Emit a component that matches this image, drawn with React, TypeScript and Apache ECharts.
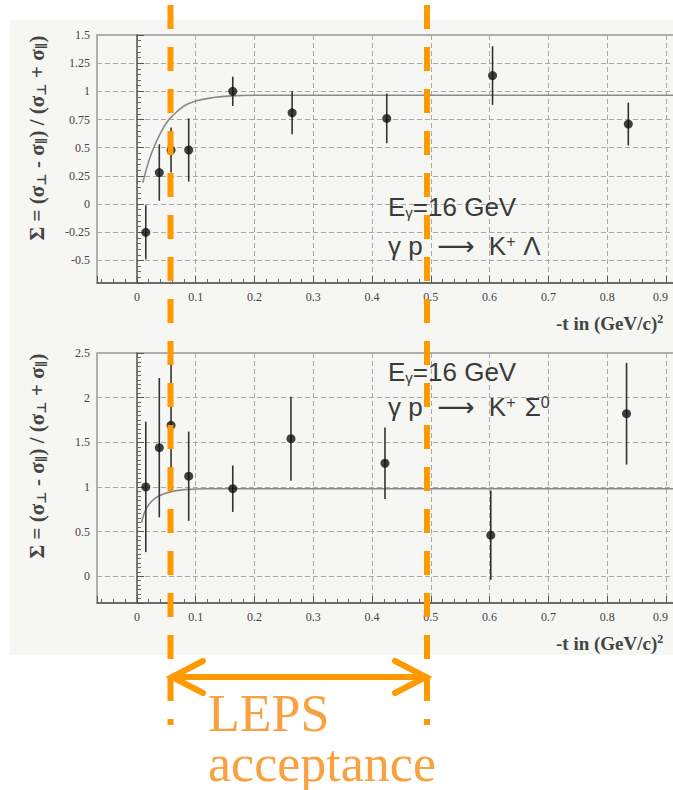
import React, { useEffect, useRef } from "react";
import * as echarts from "echarts";

// K+ Lambda (upper panel)
const topX = [0.015, 0.038, 0.058, 0.088, 0.163, 0.264, 0.425, 0.605, 0.836];
const topY = [-0.25, 0.28, 0.48, 0.48, 1.0, 0.81, 0.76, 1.14, 0.71];
const topErr = [0.24, 0.25, 0.2, 0.28, 0.13, 0.19, 0.22, 0.26, 0.19];
const topFit = [
  [0.01, 0.19], [0.02, 0.38], [0.03, 0.52], [0.04, 0.63], [0.05, 0.72], [0.06, 0.78],
  [0.08, 0.87], [0.1, 0.915], [0.13, 0.945], [0.16, 0.96], [0.2, 0.965], [1.0, 0.965],
];

// K+ Sigma0 (lower panel)
const botX = [0.015, 0.038, 0.058, 0.088, 0.163, 0.262, 0.422, 0.602, 0.833];
const botY = [1.0, 1.44, 1.69, 1.12, 0.98, 1.54, 1.265, 0.46, 1.82];
const botErr = [0.73, 0.78, 0.7, 0.5, 0.26, 0.47, 0.4, 0.5, 0.57];
const botFit = [
  [0.008, 0.6], [0.012, 0.7], [0.02, 0.8], [0.03, 0.87], [0.045, 0.92], [0.06, 0.95],
  [0.08, 0.97], [0.12, 0.98], [1.0, 0.98],
];

// axis ranges
const xRange = [-0.068, 1.0];
const topYRange = [-0.7, 1.5];
const botYRange = [-0.3, 2.5];

const topLabel1 = "E{s|γ}=16 GeV";
const topLabel2 = "γ p  ⟶  K{p|+} Λ";
const botLabel1 = "E{s|γ}=16 GeV";
const botLabel2 = "γ p  ⟶  K{p|+} Σ{p|0}";
const xTitle = "-t in (GeV/c){p|2}";
const yTitle = "{m|Σ = (σ}{s|⊥}{m| - σ}{s|∥}{m|) / (σ}{s|⊥}{m| + σ}{s|∥}{m|)}";
const lepsText = "LEPS\nacceptance";

const SERIF = "'Liberation Serif', 'DejaVu Serif', serif";
const SANS = "'Liberation Sans', 'DejaVu Sans', sans-serif";
const ORANGE = "#FF9900";

function xAxis(gi: number) {
  return {
    type: "value",
    gridIndex: gi,
    min: xRange[0],
    max: xRange[1],
    splitNumber: 10,
    minInterval: 0.1,
    maxInterval: 0.1,
    axisLine: { show: true, onZero: false, lineStyle: { color: "#555", width: 1.5 } },
    axisTick: { show: true, inside: true, length: 7, lineStyle: { color: "#555", width: 1 } },
    minorTick: { show: true, splitNumber: 5, length: 4, lineStyle: { color: "#666", width: 1 } },
    axisLabel: {
      formatter: (v: number) => {
        if (v < -0.001 || v > 0.95) return "";
        if (Math.abs(v - 0.9) < 0.001) return "{e|0.9}";
        return String(v);
      },
      fontFamily: SERIF,
      fontSize: 12,
      color: "#444",
      margin: 8,
      rich: {
        e: { fontFamily: SERIF, fontSize: 12, color: "#444", padding: [0, 11, 0, 0] },
      },
    },
    splitLine: { show: true, lineStyle: { color: "#aaa", type: [5, 3], width: 1 } },
  };
}

function yAxis(gi: number, range: number[], step: number, minorSplit: number) {
  return {
    type: "value",
    gridIndex: gi,
    min: range[0],
    max: range[1],
    splitNumber: Math.round((range[1] - range[0]) / step),
    minInterval: step,
    maxInterval: step,
    axisLine: { show: true, lineStyle: { color: "#555", width: 1.5 } },
    axisTick: { show: true, inside: true, length: 7, lineStyle: { color: "#555", width: 1 } },
    minorTick: { show: true, splitNumber: minorSplit, length: 4, lineStyle: { color: "#666", width: 1 } },
    axisLabel: {
      formatter: (v: number) => (v < range[0] + step * 0.5 && Math.abs(v / step - Math.round(v / step)) > 0.01 ? "" : String(v)),
      fontFamily: SERIF,
      fontSize: 12,
      color: "#444",
      margin: 7,
    },
    splitLine: { show: true, lineStyle: { color: "#aaa", type: [5, 3], width: 1 } },
  };
}

function errSeries(xs: number[], ys: number[], es: number[], gi: number) {
  return {
    type: "custom",
    xAxisIndex: gi,
    yAxisIndex: gi,
    z: 3,
    data: xs.map((x, i) => [x, ys[i] - es[i], ys[i] + es[i]]),
    renderItem: (params: any, api: any) => {
      const lo = api.coord([api.value(0), api.value(1)]);
      const hi = api.coord([api.value(0), api.value(2)]);
      return {
        type: "line",
        shape: { x1: lo[0], y1: lo[1], x2: hi[0], y2: hi[1] },
        style: { stroke: "#333", lineWidth: 1.6 },
      };
    },
  };
}

function dotSeries(xs: number[], ys: number[], gi: number) {
  return {
    type: "scatter",
    xAxisIndex: gi,
    yAxisIndex: gi,
    z: 4,
    symbol: "circle",
    symbolSize: 9,
    itemStyle: { color: "#111" },
    data: xs.map((x, i) => [x, ys[i]]),
  };
}

function fitSeries(pts: number[][], gi: number) {
  return {
    type: "line",
    xAxisIndex: gi,
    yAxisIndex: gi,
    z: 2,
    smooth: 0.4,
    showSymbol: false,
    lineStyle: { color: "#8a8a8a", width: 1.6 },
    data: pts,
  };
}

function annot(x: number, y: number, text: string) {
  return {
    type: "text",
    x,
    y,
    z: 50,
    style: {
      text,
      fontFamily: SANS,
      fontSize: 26,
      fill: "#3a3a3a",
      align: "left",
      verticalAlign: "middle",
      rich: {
        s: { fontSize: 15, fontFamily: SANS, fill: "#3a3a3a", verticalAlign: "bottom", padding: [10, 0, 0, 0] },
        p: { fontSize: 16, fontFamily: SANS, fill: "#3a3a3a", verticalAlign: "top", padding: [0, 2, 10, 0] },
      },
    },
  };
}

function xTitleText(y: number) {
  return {
    type: "text",
    x: 556,
    y,
    z: 50,
    style: {
      text: xTitle,
      fontFamily: SERIF,
      fontSize: 19,
      fontWeight: "bold",
      fill: "#444",
      align: "left",
      verticalAlign: "middle",
      rich: {
        p: { fontSize: 12, fontFamily: SERIF, fontWeight: "bold", fill: "#444", verticalAlign: "top", padding: [0, 0, 8, 0] },
      },
    },
  };
}

function yTitleText(y: number) {
  return {
    type: "text",
    x: 37,
    y,
    z: 50,
    rotation: Math.PI / 2,
    style: {
      text: yTitle,
      align: "center",
      verticalAlign: "middle",
      rich: {
        m: { fontSize: 21, fontFamily: SERIF, fontWeight: "bold", fill: "#444" },
        s: { fontSize: 13, fontFamily: SERIF, fontWeight: "bold", fill: "#444", verticalAlign: "bottom", padding: [9, 0, 0, 0] },
      },
    },
  };
}

export default function App() {
  const ref = useRef<HTMLDivElement>(null);
  useEffect(() => {
    if (!ref.current) return;
    const chart = echarts.init(ref.current, undefined, { renderer: "svg" });
    const gridW = 627.7;
    const option: any = {
      animation: false,
      backgroundColor: "transparent",
      grid: [
        { left: 97, top: 35, width: gridW, height: 248, show: true, borderColor: "#999", borderWidth: 1.5, backgroundColor: "transparent" },
        { left: 97, top: 353, width: gridW, height: 250, show: true, borderColor: "#999", borderWidth: 1.5, backgroundColor: "transparent" },
      ],
      xAxis: [xAxis(0), xAxis(1)],
      yAxis: [yAxis(0, topYRange, 0.25, 5), yAxis(1, botYRange, 0.5, 10)],
      series: [
        fitSeries(topFit, 0),
        errSeries(topX, topY, topErr, 0),
        dotSeries(topX, topY, 0),
        fitSeries(botFit, 1),
        errSeries(botX, botY, botErr, 1),
        dotSeries(botX, botY, 1),
      ],
      graphic: [
        { type: "rect", z: -10, shape: { x: 10, y: 20, width: 740, height: 635 }, style: { fill: "#F6F6F3" } },
        yTitleText(138),
        yTitleText(456),
        xTitleText(323),
        xTitleText(643),
        annot(388, 207, topLabel1),
        annot(388, 246, topLabel2),
        annot(388, 372, botLabel1),
        annot(388, 407, botLabel2),
        // LEPS acceptance overlay
        { type: "line", z: 100, shape: { x1: 170.5, y1: 5, x2: 170.5, y2: 725 }, style: { stroke: ORANGE, lineWidth: 6, lineDash: [24, 18] } },
        { type: "line", z: 100, shape: { x1: 427, y1: 5, x2: 427, y2: 725 }, style: { stroke: ORANGE, lineWidth: 6, lineDash: [24, 18] } },
        { type: "line", z: 100, shape: { x1: 172, y1: 677, x2: 426, y2: 677 }, style: { stroke: ORANGE, lineWidth: 6 } },
        { type: "polyline", z: 100, shape: { points: [[203, 661], [172, 677], [203, 693]] }, style: { stroke: ORANGE, lineWidth: 6, lineCap: "round", lineJoin: "miter", fill: "none" } },
        { type: "polyline", z: 100, shape: { points: [[395, 661], [426, 677], [395, 693]] }, style: { stroke: ORANGE, lineWidth: 6, lineCap: "round", lineJoin: "miter", fill: "none" } },
        { type: "text", z: 100, x: 208, y: 738, style: { text: lepsText, fontFamily: SERIF, fontSize: 52, lineHeight: 50, fill: "#F9A040", align: "left", verticalAlign: "middle" } },
      ],
    };
    chart.setOption(option);
    return () => chart.dispose();
  }, []);
  return (
    <div style={{ position: "absolute", left: 0, top: 0, width: 673, height: 790, overflow: "hidden", background: "#fff" }}>
      <div ref={ref} style={{ position: "absolute", left: 0, top: 0, width: 760, height: 790 }} />
    </div>
  );
}
